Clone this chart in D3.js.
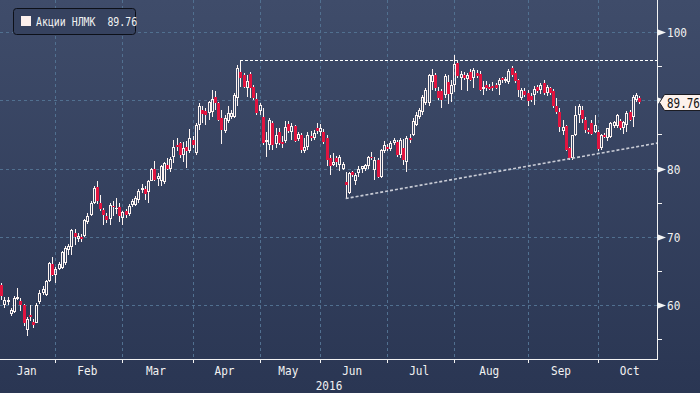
<!DOCTYPE html>
<html><head><meta charset="utf-8">
<script src="https://cdn.jsdelivr.net/npm/d3@7"></script>
<style>
html,body{margin:0;padding:0;background:#2f3b57;}
svg{display:block;}
text{font-family:"DejaVu Sans Mono",monospace;}
</style>
</head><body>
<svg id="chart" width="700" height="393"></svg>
<script>
// ---------- DATA ----------
const monthNames = ["Jan","Feb","Mar","Apr","May","Jun","Jul","Aug","Sep","Oct"];
const monthTradingDays = [17,21,22,21,19,21,21,23,22,21]; // full-month length (label centring)
// candles: [open, high, low, close]
const jan = [[63.0,63.2,60.8,61.3],[60.0,61.1,59.6,60.8],[60.5,61.2,60.0,60.7],[58.7,59.5,58.4,59.3],[59.0,61.3,58.8,61.0],[60.9,62.5,60.8,61.1],[60.6,61.0,59.1,60.0],[60.0,60.2,56.9,57.4],[56.4,58.3,55.5,57.9],[58.5,60.0,57.6,58.2],[57.5,57.9,56.6,57.1],[57.4,60.3,57.3,60.0],[60.4,62.2,60.2,61.8],[61.8,62.8,61.4,62.3],[61.5,63.7,61.3,63.5],[63.5,66.3,63.4,66.1],[66.0,67.0,64.2,64.4]];
const feb = [[64.4,65.6,63.2,65.3],[65.3,66.3,65.2,66.0],[65.4,67.9,65.3,67.7],[66.2,68.6,65.9,68.3],[68.1,69.0,67.3,68.7],[68.5,71.2,67.3,71.0],[70.6,71.2,68.8,70.0],[69.6,70.5,69.2,70.1],[70.0,70.4,69.3,69.7],[70.1,72.6,69.9,72.4],[72.1,73.5,71.9,73.0],[73.2,75.2,73.1,75.0],[74.9,77.4,74.8,77.1],[77.3,78.1,74.8,75.3],[74.9,76.1,73.8,74.0],[73.9,74.2,71.7,73.2],[73.1,73.5,72.0,72.5],[72.6,75.0,71.7,74.7],[74.5,75.2,73.0,74.3],[74.0,75.7,73.4,74.2],[74.3,75.0,72.2,73.0]];
const mar = [[72.8,73.8,71.7,73.6],[73.7,74.0,72.8,73.2],[73.3,74.8,73.0,74.5],[74.7,75.6,74.4,75.2],[74.7,76.0,74.5,75.7],[75.4,77.0,74.9,76.7],[76.9,77.8,76.4,77.1],[77.0,77.4,75.4,76.2],[76.6,78.3,75.0,78.1],[78.2,80.1,78.1,80.0],[80.0,81.1,78.1,78.3],[78.4,79.3,77.5,78.9],[78.1,80.5,77.4,80.3],[78.0,81.0,77.8,80.8],[80.5,81.5,79.8,80.0],[79.9,81.7,79.5,81.4],[81.7,84.2,80.8,83.2],[83.5,84.4,82.5,83.2],[83.7,83.9,81.5,82.0],[82.0,83.9,81.0,83.0],[83.2,84.0,80.1,82.5],[82.5,85.8,82.2,84.4]];
const apr = [[84.2,84.8,83.0,83.4],[82.2,86.6,82.0,86.4],[86.4,89.6,85.7,89.1],[88.6,89.1,86.6,88.0],[88.4,88.9,86.4,87.9],[88.1,89.9,87.1,89.8],[88.3,91.5,87.6,90.2],[90.5,91.3,88.6,89.6],[89.6,89.8,86.9,87.1],[87.4,88.6,83.6,85.7],[85.5,87.8,85.2,87.4],[86.9,89.1,86.6,88.1],[87.6,88.6,87.2,88.1],[87.6,91.0,87.4,90.8],[90.3,95.2,89.1,94.7],[94.2,95.9,92.0,93.3],[93.7,94.0,91.8,92.0],[91.8,93.7,90.5,92.8],[93.8,94.2,90.3,91.8],[92.0,92.2,90.0,90.3],[90.2,91.0,87.8,88.2]];
const may = [[88.4,89.6,87.8,89.3],[87.5,88.8,83.5,83.7],[83.9,85.4,81.7,84.2],[83.5,87.4,82.7,87.1],[86.6,86.9,82.7,83.5],[83.6,85.9,83.0,84.9],[85.4,85.9,83.4,83.7],[83.9,84.7,83.0,83.6],[84.0,86.9,83.7,86.1],[86.5,87.0,85.2,85.5],[85.4,86.6,84.2,86.3],[86.2,86.4,83.9,84.1],[84.3,85.4,84.0,85.1],[84.9,85.2,82.2,82.7],[82.5,84.4,82.2,83.2],[83.1,85.4,82.7,84.9],[84.8,85.5,84.0,84.4],[84.5,85.6,84.2,85.2],[85.9,86.6,85.0,85.5]];
const jun = [[85.4,86.5,84.7,86.0],[85.3,85.8,83.6,83.9],[84.4,84.9,80.3,81.3],[81.6,82.0,79.1,80.3],[80.5,82.2,80.3,81.0],[81.5,81.8,80.2,81.0],[80.5,82.0,79.6,81.7],[80.0,80.9,79.8,80.6],[78.0,79.5,75.6,77.6],[76.4,79.5,76.2,79.3],[79.5,79.7,78.8,79.1],[78.1,79.3,77.6,79.1],[79.3,80.4,78.8,80.0],[80.0,80.4,79.3,80.3],[80.0,80.7,79.6,80.5],[80.4,81.9,80.0,81.7],[81.7,82.4,81.2,81.5],[79.8,81.7,78.3,81.3],[81.3,81.5,78.6,78.8],[78.8,82.9,78.6,82.7],[82.6,84.0,82.2,83.5]];
const jul = [[83.2,83.6,82.5,82.9],[82.9,84.0,82.6,83.7],[83.7,84.5,83.4,84.2],[83.9,84.2,81.7,82.0],[82.0,84.5,81.5,84.2],[83.0,84.3,80.5,81.3],[81.0,84.8,79.5,84.5],[84.5,85.0,83.8,84.2],[84.9,87.4,84.7,86.9],[86.4,88.3,86.2,87.8],[87.6,88.9,87.2,88.6],[88.3,90.8,87.8,90.5],[89.6,91.8,89.3,91.5],[89.6,93.9,89.2,93.7],[92.7,94.6,91.5,93.7],[93.7,94.0,91.4,91.8],[91.4,91.9,90.0,90.3],[91.3,91.6,88.9,90.0],[90.8,93.9,90.3,93.5],[92.7,93.7,89.4,90.9],[90.9,92.9,89.7,92.2]];
const aug = [[92.2,96.6,91.2,95.3],[95.4,95.7,93.2,93.5],[93.3,94.3,91.5,93.8],[93.7,94.2,92.9,93.3],[93.1,94.0,91.3,93.7],[94.1,94.6,92.8,93.0],[93.2,94.7,91.8,94.4],[94.0,94.5,93.3,93.6],[93.8,94.3,91.3,91.5],[91.7,92.8,90.7,91.9],[92.3,92.8,91.4,91.8],[92.0,92.4,91.5,91.7],[92.1,92.7,91.4,91.8],[92.3,92.6,91.6,91.8],[92.2,93.3,90.8,93.0],[93.2,93.4,92.6,92.9],[92.8,93.4,92.5,93.1],[92.7,94.6,92.4,94.3],[94.7,95.0,93.4,93.7],[94.0,94.3,92.5,92.8],[92.9,93.1,90.5,91.5],[90.4,91.8,90.0,91.5],[91.3,91.8,90.5,90.8]];
const sep = [[91.0,91.5,89.2,89.9],[90.6,91.0,89.7,90.0],[90.8,92.1,89.3,91.6],[91.9,92.2,91.1,91.4],[91.5,92.5,90.9,92.2],[92.6,92.9,90.7,91.0],[91.1,92.2,90.6,91.9],[91.8,92.0,90.8,91.0],[91.3,91.6,88.9,89.1],[89.2,90.3,88.0,88.3],[88.3,88.8,85.4,86.1],[85.5,87.1,84.9,86.1],[86.2,86.4,82.5,82.7],[83.0,83.2,81.3,81.5],[81.5,84.9,81.3,84.9],[84.9,89.1,84.7,87.8],[87.8,89.4,86.7,89.1],[88.6,89.1,86.7,87.2],[87.1,87.6,85.2,85.7],[85.7,86.0,85.0,85.3],[86.6,87.1,84.9,85.1],[85.4,87.9,85.2,86.4]];
const oct = [[85.4,85.6,82.5,82.8],[83.0,85.1,82.7,84.9],[84.9,85.2,84.4,84.6],[84.4,86.0,84.0,85.9],[84.6,86.8,84.4,86.6],[86.2,87.0,85.9,86.8],[86.2,88.0,85.9,87.8],[86.9,87.2,85.6,85.9],[85.9,87.0,85.0,86.8],[86.4,88.4,85.4,88.1],[88.3,88.6,86.9,87.1],[87.6,90.7,86.1,90.5],[90.0,91.1,89.7,90.8],[90.4,90.6,89.5,89.76]];
const monthCandles = [jan,feb,mar,apr,may,jun,jul,aug,sep,oct];
const yMajorTicks = [60,70,80,90,100];
const yMinorTicks = [55,65,75,85,95];
const yearLabel = "2016";
const seriesName = "Акции НЛМК";
const lastPrice = 89.76;
const resistanceLine = [[75,95.9],[206,95.9]];   // [candle index, price]
const supportLine = [[108,75.6],[206,83.75]];

// ---------- LAYOUT ----------
const W = 700, H = 393, plotR = 657, plotB = 359;
const svg = d3.select("#chart");
const candles = [];
const monthStart = [];
monthCandles.forEach((m, mi) => {
  monthStart.push(candles.length);
  m.forEach(d => candles.push({o:d[0],h:d[1],l:d[2],c:d[3],i:candles.length}));
});
const x = d3.scaleLinear().domain([0, 200]).range([1.2, 639.2]);
const y = d3.scaleLinear().domain([60, 100]).range([305, 32]);

// background
const defs = svg.append("defs");
const grad = defs.append("linearGradient").attr("id","bg").attr("x1",0).attr("y1",0).attr("x2",0).attr("y2",1);
grad.append("stop").attr("offset","0%").attr("stop-color","#3f4c6a");
grad.append("stop").attr("offset","100%").attr("stop-color","#2a3653");
svg.append("rect").attr("width",W).attr("height",H).attr("fill","url(#bg)");
defs.append("clipPath").attr("id","plotclip").append("rect").attr("x",0).attr("y",0).attr("width",plotR).attr("height",plotB);

// grid
const gridColor = "#517090";
const grid = svg.append("g").attr("shape-rendering","crispEdges");
grid.selectAll("line.h").data(yMajorTicks).join("line")
  .attr("x1",0).attr("x2",plotR).attr("y1",d=>Math.round(y(d))+0.5).attr("y2",d=>Math.round(y(d))+0.5)
  .attr("stroke",gridColor).attr("stroke-dasharray","3,3");
grid.selectAll("line.v").data(monthStart.slice(1)).join("line")
  .attr("x1",d=>Math.round(x(d))+0.5).attr("x2",d=>Math.round(x(d))+0.5).attr("y1",0).attr("y2",plotB)
  .attr("stroke",gridColor).attr("stroke-dasharray","3,3");

// candles
const cg = svg.append("g").attr("clip-path","url(#plotclip)").attr("shape-rendering","crispEdges");
const white = "#fdf4f1", red = "#e0143f";
candles.forEach(d => {
  const px = Math.round(x(d.i));
  const top = Math.max(d.o,d.c), bot = Math.min(d.o,d.c);
  const yt = Math.round(y(top)), yb = Math.max(Math.round(y(bot)), yt+1);
  const yh = Math.round(y(d.h)), yl = Math.round(y(d.l));
  if (yh < yt) cg.append("line").attr("x1",px+0.5).attr("x2",px+0.5).attr("y1",yh).attr("y2",yt).attr("stroke",white);
  if (yl > yb) cg.append("line").attr("x1",px+0.5).attr("x2",px+0.5).attr("y1",yb).attr("y2",yl).attr("stroke",white);
  if (d.c >= d.o) {
    cg.append("rect").attr("x",px-0.5).attr("y",yt+0.5).attr("width",2).attr("height",Math.max(yb-yt-1,0.01))
      .attr("fill","none").attr("stroke",white);
  } else {
    cg.append("rect").attr("x",px-1).attr("y",yt).attr("width",3).attr("height",Math.max(yb-yt,1)).attr("fill",red);
  }
});

// trend lines
const lineGen = d3.line().x(d=>x(d[0])).y(d=>y(d[1]));
const tl = svg.append("g").attr("clip-path","url(#plotclip)");
tl.append("path").attr("d",d3.line().x(d=>Math.round(x(d[0]))).y(d=>Math.round(y(d[1]))+0.5)(resistanceLine))
  .attr("fill","none").attr("stroke","#ffffff").attr("stroke-width",1).attr("stroke-dasharray","3,2").attr("shape-rendering","crispEdges");
tl.append("path").attr("d",lineGen(supportLine))
  .attr("fill","none").attr("stroke","#c9ccd6").attr("stroke-width",1.6).attr("stroke-dasharray","3,2");

// axes
const axisColor = "#f4f4f4";
const ax = svg.append("g").attr("shape-rendering","crispEdges");
ax.append("line").attr("x1",plotR+0.5).attr("x2",plotR+0.5).attr("y1",0).attr("y2",plotB+1).attr("stroke",axisColor);
ax.append("line").attr("x1",0).attr("x2",plotR+1).attr("y1",plotB+0.5).attr("y2",plotB+0.5).attr("stroke",axisColor);
ax.selectAll("line.mt").data(monthStart.slice(1)).join("line")
  .attr("x1",d=>Math.round(x(d))+0.5).attr("x2",d=>Math.round(x(d))+0.5).attr("y1",plotB).attr("y2",plotB+4).attr("stroke",axisColor);
ax.selectAll("line.ym").data(yMinorTicks).join("line")
  .attr("x1",plotR).attr("x2",plotR+5).attr("y1",d=>Math.round(y(d))+0.5).attr("y2",d=>Math.round(y(d))+0.5).attr("stroke",axisColor);

function label(g, tx, ty, txt, opts) {
  opts = opts || {};
  return g.append("text").attr("transform",`translate(${tx},${ty}) scale(${opts.sx||0.85},1)`)
    .attr("text-anchor",opts.anchor||"start").attr("font-size",opts.size||13)
    .attr("fill",opts.fill||"#f2f2f2").style("white-space","pre").text(txt);
}
const ly = Math.round(y(lastPrice));
const yl = svg.append("g");
yMajorTicks.forEach(t => {
  const yy = Math.round(y(t))+0.5;
  yl.append("path").attr("d",`M${plotR+1},${yy-3}L${plotR+9},${yy}L${plotR+1},${yy+3}Z`).attr("fill",axisColor);
  // label hidden under the last-price tag, as in the reference
  if (Math.abs(yy - ly) > 12) label(yl, plotR+10, yy+4.5, String(t));
});
// month labels
const xl = svg.append("g");
monthNames.forEach((m, k) => {
  const s = monthStart[k], e = s + monthTradingDays[k] - 1;
  label(xl, x((s+e)/2), 375, m, {anchor:"middle"});
});
label(xl, 329, 390, yearLabel, {anchor:"middle"});

// last price tag
svg.append("path").attr("d",`M${plotR+2.5},${ly+0.5}L${plotR+7.5},${ly-7.5}L${W+2},${ly-7.5}L${W+2},${ly+8.5}L${plotR+7.5},${ly+8.5}Z`)
  .attr("fill","#fdf2ec").attr("stroke","#1b1b22").attr("stroke-width",1);
label(svg, plotR+10, ly+5.5, lastPrice.toFixed(2), {size:14, sx:0.78, fill:"#111"});

// legend
const lg = svg.append("g");
lg.append("rect").attr("x",13.5).attr("y",8.5).attr("width",122).attr("height",26).attr("rx",3)
  .attr("fill","#36425f").attr("stroke","#0d1018");
lg.append("rect").attr("x",21).attr("y",16).attr("width",10).attr("height",10).attr("fill","#fdf1ee");
label(lg, 36, 26, seriesName + "  " + lastPrice.toFixed(2), {size:11.5, sx:0.86});
</script>
</body></html>
